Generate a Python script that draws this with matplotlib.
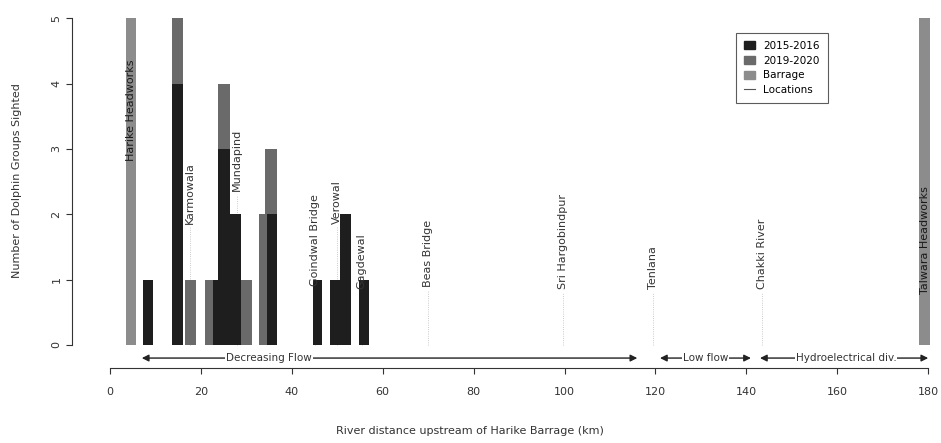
import matplotlib.pyplot as plt
from matplotlib.patches import Patch
from matplotlib.lines import Line2D

# bars: position (km), width (km), groups 2015-16 and 2019-20 (stacked)
bar_km = [8.4, 14.8, 17.8, 21.8, 23.2, 25.1, 27.6, 30.0, 33.6, 35.4, 45.6, 49.5, 51.8, 55.9]
bar_w = [2.2, 2.4, 2.4, 1.8, 1.1, 2.6, 2.4, 2.4, 1.7, 2.6, 2.0, 2.2, 2.4, 2.2]
groups_1516 = [1, 4, 0, 0, 1, 3, 2, 0, 0, 2, 1, 1, 2, 1]
groups_1920 = [0, 1, 1, 1, 0, 1, 0, 1, 2, 1, 0, 0, 0, 0]

# barrages
barrage_km = [4.6, 179.2]
barrage_w = [2.2, 2.6]
barrage_names = ["Harike Headworks", "Talwara Headworks"]
barrage_label_y = [3.6, 1.6]
barrage_height = 5

# locations along the river
loc_names = ["Karmowala", "Mundapind", "Goindwal Bridge", "Verowal", "Gagdewal",
             "Beas Bridge", "Sri Hargobindpur", "Tenlana", "Chakki River"]
loc_km = [17.6, 27.9, 45.1, 50.0, 55.4, 70.0, 99.7, 119.5, 143.5]
loc_label_y = [1.85, 2.35, 0.9, 1.85, 0.85, 0.88, 0.85, 0.85, 0.85]

# flow regimes along the x axis
flow_names = ["Decreasing Flow", "Low flow", "Hydroelectrical div."]
flow_start = [7, 121, 143]
flow_end = [116, 141, 180]
flow_text_km = [35, 131, 162]

c1516 = "#1e1e1e"
c1920 = "#6a6a6a"
cbar = "#8c8c8c"
txt = "#333333"

fig = plt.figure(figsize=(9.41, 4.43), dpi=100)
ax = fig.add_axes([72/941, 1 - 368/443, 863/941, 353/443])

ax.bar(bar_km, groups_1516, width=bar_w, color=c1516, zorder=3)
ax.bar(bar_km, groups_1920, width=bar_w, bottom=groups_1516, color=c1920, zorder=3)
ax.bar(barrage_km, [barrage_height] * 2, width=barrage_w, color=cbar, zorder=3)
for km, name, ly in zip(barrage_km, barrage_names, barrage_label_y):
    ax.text(km, ly, name, rotation=90, ha="center", va="center",
            fontsize=8, color="#1a1a1a", zorder=4)

for km, name, ly in zip(loc_km, loc_names, loc_label_y):
    ax.plot([km, km], [0, ly - 0.05], color="#bbbbbb", lw=0.6, ls=":", zorder=2)
    ax.text(km, ly, name, rotation=90, ha="center", va="bottom", fontsize=8,
            color=txt, zorder=4)

ay = -0.2
for name, s, e, t in zip(flow_names, flow_start, flow_end, flow_text_km):
    ax.annotate("", xy=(s, ay), xytext=(e, ay),
                arrowprops=dict(arrowstyle="<|-|>", color="#222222", lw=1.0,
                                mutation_scale=10, shrinkA=0, shrinkB=0))
    ax.text(t, ay, name, ha="center", va="center", fontsize=7.5, color=txt,
            bbox=dict(facecolor="white", edgecolor="none", pad=0.5), zorder=5)

ax.set_xlim(-8.36, 181.5)
ax.set_ylim(-0.352, 5.05)
for s in ["top", "right"]:
    ax.spines[s].set_visible(False)
ax.spines["left"].set_bounds(0, 5)
ax.spines["bottom"].set_bounds(0, 180)
ax.spines["left"].set_color("#333333")
ax.spines["bottom"].set_color("#333333")

ax.set_xticks(range(0, 181, 20))
ax.set_yticks(range(0, 6))
ax.tick_params(axis="both", labelsize=8, colors=txt, length=4)
ax.tick_params(axis="x", pad=10)
for lab in ax.get_yticklabels():
    lab.set_rotation(90)
    lab.set_va("center")

ax.set_ylabel("Number of Dolphin Groups Sighted", fontsize=8, color=txt)
ax.yaxis.set_label_coords(-0.058, 0.53)
ax.set_xlabel("River distance upstream of Harike Barrage (km)", fontsize=8, color=txt)
ax.xaxis.set_label_coords(0.461, -0.165)

handles = [Patch(color=c1516, label="2015-2016"),
           Patch(color=c1920, label="2019-2020"),
           Patch(color=cbar, label="Barrage"),
           Line2D([], [], color="#555555", lw=0.8, label="Locations")]
leg = ax.legend(handles=handles, loc="upper right", bbox_to_anchor=(0.882, 0.965),
                fontsize=7.5, frameon=True, fancybox=False, edgecolor="#333333",
                handlelength=1.0, handleheight=0.8, borderpad=0.8, labelspacing=0.45)
leg.get_frame().set_linewidth(0.8)

fig.savefig("out.png", dpi=100)
